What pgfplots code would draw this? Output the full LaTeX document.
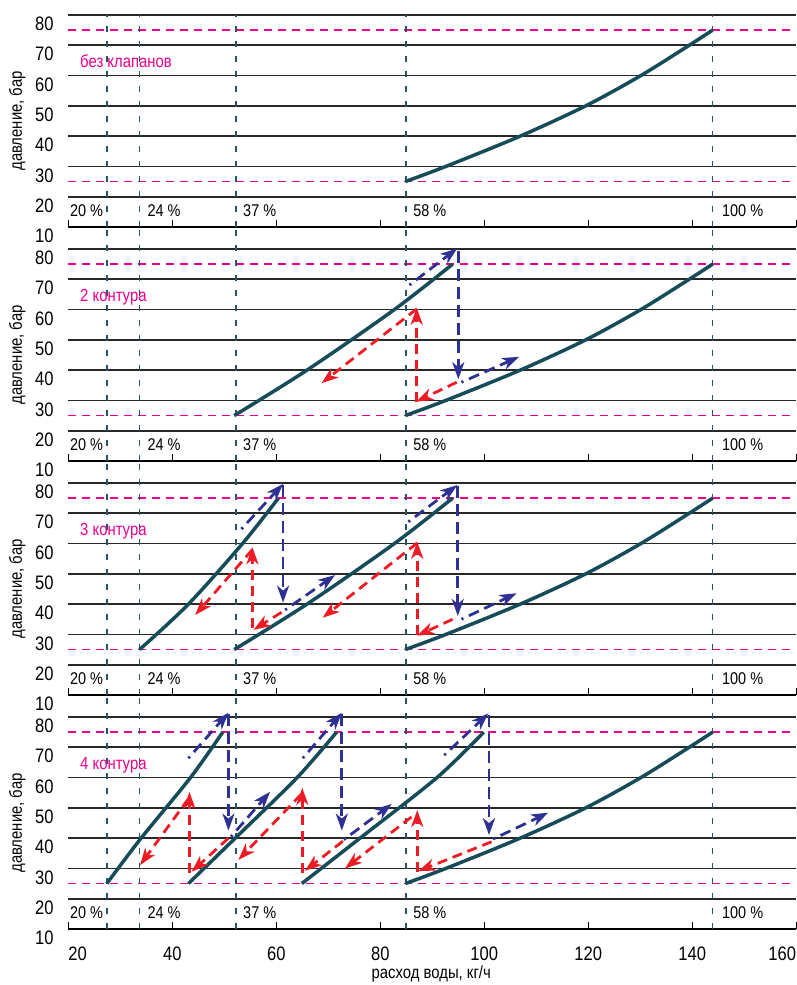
\documentclass[border=0pt]{standalone}
\usepackage{fontspec}
\setmainfont[FakeStretch=0.85]{Liberation Sans}
\usepackage{pgfplots}
\pgfplotsset{compat=1.18}
\usetikzlibrary{arrows.meta}
\definecolor{curvec}{RGB}{22,76,90}
\definecolor{vlinec}{RGB}{40,85,100}
\definecolor{magc}{RGB}{236,0,140}
\definecolor{bluec}{RGB}{46,49,146}
\definecolor{redc}{RGB}{237,28,36}
\definecolor{gridc}{RGB}{40,40,40}
\newcommand\tickfont{\fontsize{19.5}{22}\selectfont}
\newcommand\txtfont{\fontsize{17.5}{21}\selectfont}
\newcommand\pctfont{\fontsize{17}{20}\selectfont}
\pgfplotsset{
 panel/.style={
  width=728pt, height=212pt, scale only axis,
  xmin=20, xmax=160, ymin=10, ymax=80,
  axis x line=bottom, axis y line=left,
  axis line style={-},
  y axis line style={draw=none},
  x axis line style={line width=2.4pt, black},
  xtick={20,40,...,160}, ytick={10,20,...,80},
  xtick align=inside, major tick length=7pt,
  x tick style={line width=1.6pt, black},
  y tick style={draw=none},
  ymajorgrids, grid style={line width=1.6pt, gridc},
  clip=false,
  /pgf/number format/assume math mode=true,
  yticklabel style={font=\tickfont, anchor=base east, inner sep=0pt, xshift=-11pt, yshift=-15.7pt},
  xticklabel style={font=\tickfont, anchor=base, inner sep=0pt, yshift=-31pt},
  anchor=south west,
 },
 curve/.style={curvec, line width=3.5pt, smooth, no marks},
 vline/.style={vlinec, line width=1.7pt, dash pattern=on 6pt off 9pt, no marks},
 mline/.style={magc, line width=1.7pt, dash pattern=on 8pt off 6pt, no marks},
 tip/.style={-{Stealth[length=17pt,width=12pt,inset=5pt]}},
 bdd/.style={bluec, line width=2.8pt, no marks, dash pattern=on 2.2pt off 6pt on 11pt off 6pt on 11pt off 6pt on 11pt off 6pt on 11pt off 6pt on 11pt off 6pt, tip},
 bd/.style={bluec, line width=2.8pt, no marks, dash pattern=on 12pt off 6pt, tip},
 rd/.style={redc, line width=2.8pt, no marks, dash pattern=on 10pt off 6pt, tip},
}
\newcommand\common[2]{%
 \addplot[mline] coordinates {(20,25) (160,25)};
 \addplot[mline] coordinates {(20,75) (160,75)};
 \addplot[vline] coordinates {(27.4,10) (27.4,#2)};
 \addplot[vline] coordinates {(33.7,10) (33.7,#2)};
 \addplot[vline] coordinates {(52.2,10) (52.2,#2)};
 \addplot[vline] coordinates {(85.0,10) (85.0,#2)};
 \addplot[vline] coordinates {(143.9,10) (143.9,#2)};
 \node[anchor=base west, inner sep=0pt, font=\txtfont, text=magc] at (axis cs:22.25,62.6) {#1};
 \node[anchor=base west, inner sep=0pt, font=\pctfont] at (axis cs:20.3,13.4) {20 \%};
 \node[anchor=base west, inner sep=0pt, font=\pctfont] at (axis cs:35.2,13.4) {24 \%};
 \node[anchor=base west, inner sep=0pt, font=\pctfont] at (axis cs:53.6,13.4) {37 \%};
 \node[anchor=base west, inner sep=0pt, font=\pctfont] at (axis cs:86.3,13.4) {58 \%};
 \node[anchor=base west, inner sep=0pt, font=\pctfont] at (axis cs:145.7,13.4) {100 \%};
 \node[rotate=90, anchor=base, inner sep=0pt, font=\txtfont] at ([xshift=-46.3pt]axis cs:20,45) {давление, бар};
 \addplot[curve] coordinates {(84.8,25) (92.6,30) (106.9,40) (119.5,50) (130.1,60) (139.4,70) (143.9,75)};
}
\begin{document}
\begin{tikzpicture}
\useasboundingbox (0pt,0pt) rectangle (796pt,-985pt);
% Panel 1
\begin{axis}[panel, at={(68.3pt,-227pt)}, xticklabels={}]
 \common{без клапанов}{80}
\end{axis}
% Panel 2
\begin{axis}[panel, at={(68.3pt,-461pt)}, xticklabels={}]
 \common{2 контура}{87.6}
 \addplot[curve] coordinates {(51.9,25) (65.9,40) (82.7,60) (93.9,75)};
 \addplot[bdd] coordinates {(85.6,68.1) (94.8,80.2)};
 \addplot[bd] coordinates {(95.0,79.5) (95.0,37.0)};
 \addplot[bdd] coordinates {(95.6,36.0) (106.7,44.4)};
 \addplot[rd] coordinates {(87.0,29.4) (87.0,60.6)};
 \addplot[rd] coordinates {(87.0,60.2) (68.7,35.7)};
 \addplot[rd] coordinates {(94.7,36.0) (86.9,29.6)};
\end{axis}
% Panel 3
\begin{axis}[panel, at={(68.3pt,-695pt)}, xticklabels={}]
 \common{3 контура}{87.6}
 \addplot[curve] coordinates {(33.7,25) (43.1,40) (53.5,60) (60.4,75)};
 \addplot[curve] coordinates {(51.9,25) (65.9,40) (82.7,60) (93.9,75)};
 \addplot[bdd] coordinates {(53.3,64.8) (61.3,79.7)};
 \addplot[bd] coordinates {(61.3,79.3) (61.3,40.5)};
 \addplot[bdd] coordinates {(61.7,38.1) (71.3,49.6)};
 \addplot[rd] coordinates {(55.4,32.0) (55.4,58.8)};
 \addplot[rd] coordinates {(55.4,58.0) (44.4,36.4)};
 \addplot[rd] coordinates {(61.0,37.3) (55.6,31.5)};
 \addplot[bdd] coordinates {(85.4,67.2) (94.8,79.3)};
 \addplot[bd] coordinates {(94.9,79.0) (94.9,36.1)};
 \addplot[bdd] coordinates {(95.6,35.0) (106.2,43.6)};
 \addplot[rd] coordinates {(87.1,29.8) (87.1,60.6)};
 \addplot[rd] coordinates {(87.1,60.2) (68.9,35.5)};
 \addplot[rd] coordinates {(93.9,35.0) (87.1,29.6)};
\end{axis}
% Panel 4
\begin{axis}[panel, at={(68.3pt,-929pt)}, xticklabels={,40,60,80,100,120,140,}]
 \common{4 контура}{87.6}
 \addplot[curve] coordinates {(27.4,25) (34.0,40) (43.5,60) (49.7,75)};
 \addplot[curve] coordinates {(43.1,25) (52.1,40) (64.0,60) (71.6,75)};
 \addplot[curve] coordinates {(64.9,25) (76.1,40) (90.9,60) (99.9,75)};
 % cycle 1
 \addplot[bdd] coordinates {(43.1,66.4) (50.8,81.4)};
 \addplot[bd] coordinates {(50.8,81.0) (50.8,42.5)};
 \addplot[bdd] coordinates {(51.3,40.5) (58.8,55.3)};
 \addplot[rd] coordinates {(43.3,28.6) (43.3,55.3)};
 \addplot[rd] coordinates {(43.1,53.0) (33.8,31.1)};
 \addplot[rd] coordinates {(50.8,40.0) (43.7,28.9)};
 % cycle 2
 \addplot[bdd] coordinates {(65.1,66.4) (72.6,81.4)};
 \addplot[bd] coordinates {(72.6,81.0) (72.6,42.5)};
 \addplot[bdd] coordinates {(73.0,39.5) (82.2,51.3)};
 \addplot[rd] coordinates {(65.0,28.6) (65.0,56.6)};
 \addplot[rd] coordinates {(64.8,54.5) (52.7,32.8)};
 \addplot[rd] coordinates {(72.8,39.0) (65.5,29.2)};
 % cycle 3
 \addplot[bdd] coordinates {(92.3,67.4) (100.8,81.2)};
 \addplot[bd] coordinates {(100.9,80.8) (100.9,41.0)};
 \addplot[bdd] coordinates {(101.7,39.7) (112.3,48.4)};
 \addplot[rd] coordinates {(87.1,28.9) (87.1,49.3)};
 \addplot[rd] coordinates {(86.0,47.0) (73.2,30.0)};
 \addplot[rd] coordinates {(101.4,38.8) (87.3,29.1)};
 \node[anchor=base west, inner sep=0pt, font=\tickfont] at ([yshift=-31pt]axis cs:20,10) {20};
 \node[anchor=base east, inner sep=0pt, font=\tickfont] at ([yshift=-31pt]axis cs:160,10) {160};
 \node[anchor=base, inner sep=0pt, font=\txtfont] at ([yshift=-49pt]axis cs:89.8,10) {расход воды, кг/ч};
\end{axis}
\end{tikzpicture}
\end{document}
